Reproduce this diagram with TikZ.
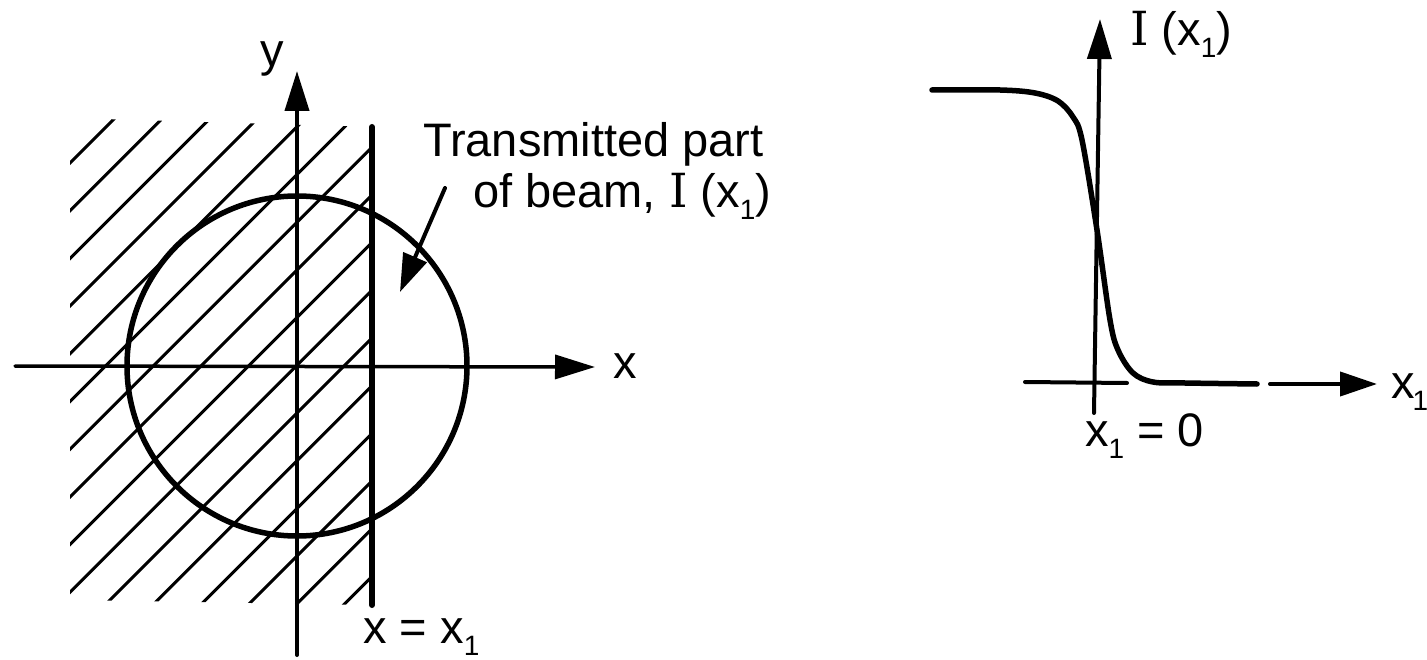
\documentclass[tikz,border=0pt]{standalone}
\usepackage{fontspec}
\setmainfont{Liberation Sans}
\newfontfamily\serI{DejaVu Serif}
\usetikzlibrary{arrows.meta}
\newcommand\lowsub[1]{\raisebox{-12pt}{\fontsize{28}{28}\selectfont #1}}
\tikzset{
  lbl/.style={font=\fontsize{47}{52}\selectfont, inner sep=0pt, anchor=base west},
  axisline/.style={line width=4pt, line cap=round},
  thickline/.style={line width=5.5pt, line cap=round},
  hatchline/.style={line width=3pt, line cap=round},
  bigtip/.style={-{Triangle[length=40pt,width=24pt]}},
}
\begin{document}
\begin{tikzpicture}[x=1pt,y=-1pt]
\useasboundingbox (0,0) rectangle (1427,660);
\fill[white] (0,0) rectangle (1427,660);

% ---------- left diagram ----------
\coordinate (O) at (297,366);
% hatching
\begin{scope}
  \clip (70,118) -- (372,127) -- (372,605) -- (70,600) -- cycle;
  \foreach \k in {0,...,16} {
    \pgfmathsetmacro\cc{233+47.7*\k}
    \draw[hatchline] (\cc-700,700) -- (\cc,0);
  }
\end{scope}
% circle (beam)
\draw[thickline] (O) circle[radius=170pt];
% axes
\coordinate (xL) at (15,366);
\coordinate (xR) at (595,367);
\coordinate (yB) at (297,655);
\coordinate (yT) at (297,71);
\draw[axisline, line width=3.5pt, bigtip] (xL) -- (xR);
\draw[axisline, bigtip] (yB) -- (yT);
% knife edge line x = x1
\coordinate (kT) at (372,127);
\coordinate (kB) at (372,605);
\draw[line width=6pt, line cap=round] (kT) -- (kB);
% pointer arrow
\coordinate (pS) at (445,188);
\coordinate (pE) at (400,292);
\draw[line width=4pt, line cap=round, -{Triangle[length=38pt,width=25pt]}] (pS) -- (pE);
% labels
\node[lbl, anchor=base] (ylab) at (272,67) {y};
\node[lbl] (xlab) at (613,378) {x};
\node[lbl] (kl) at (363,643) {x = x\lowsub{1}};
\node[lbl] (t1) at (423,157) {Transmitted part};
\node[lbl] (t2) at (473,208) {of beam, {\serI I} (x\lowsub{1})};

% ---------- right diagram ----------
\draw[thickline] plot[smooth, tension=0.55] coordinates {
  (932,90) (1000,90) (1035,93) (1058,101) (1073,117) (1082,140)
  (1097,230) (1110,320) (1118,350) (1133,373) (1153,382) (1185,383) (1257,384)};
\coordinate (vB) at (1094,413);
\coordinate (vT) at (1100,19);
\draw[axisline, bigtip] (vB) -- (vT);
\coordinate (hL) at (1025,382);
\coordinate (hM) at (1127,383);
\draw[axisline] (hL) -- (hM);
\coordinate (aS) at (1270,384);
\coordinate (aE) at (1377,384);
\draw[axisline, -{Triangle[length=37pt,width=24pt]}] (aS) -- (aE);
\node[lbl] (Il) at (1130,46) {{\serI I} (x\lowsub{1})};
\node[lbl] (zl) at (1085,446) {x\lowsub{1} = 0};
\node[lbl] (xr) at (1391,398) {x\kern-2pt\lowsub{1}};
\end{tikzpicture}
\end{document}
